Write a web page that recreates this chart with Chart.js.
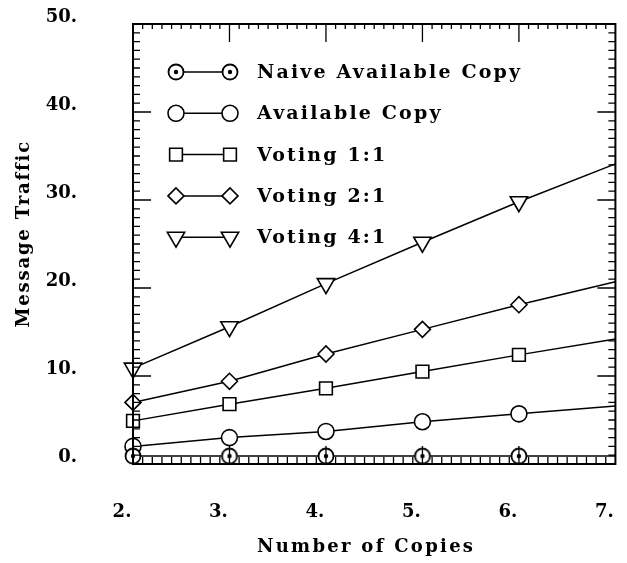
<!DOCTYPE html>
<html>
<head>
<meta charset="utf-8">
<title>Message Traffic</title>
<script src="https://cdn.jsdelivr.net/npm/chart.js@4.4.1/dist/chart.umd.min.js"></script>
<style>
  html, body { margin: 0; padding: 0; background: #fff; }
  canvas { display: block; }
</style>
</head>
<body>
<canvas id="trafficChart" width="627" height="563"></canvas>
<script>
// ===== Data =====
const copies = [2, 3, 4, 5, 6, 7];
const naiveAvailable = [0.9, 0.9, 0.9, 0.9, 0.9, 0.9];
const availableCopy = [2.0, 3.0, 3.7, 4.8, 5.7, 6.6];
const voting11 = [4.9, 6.8, 8.6, 10.5, 12.4, 14.2];
const voting21 = [7.0, 9.4, 12.5, 15.3, 18.1, 20.7];
const voting41 = [10.9, 15.6, 20.5, 25.2, 29.8, 34.1];
const seriesNames = ["Naive Available Copy", "Available Copy", "Voting 1:1", "Voting 2:1", "Voting 4:1"];
const xTickValues = [2, 3, 4, 5, 6, 7];
const yTickValues = [0, 10, 20, 30, 40, 50];

const FONT = "'DejaVu Serif', 'Liberation Serif', serif";

// ===== Marker: circle with a dot =====
function makeDotCircle(r) {
  const c = document.createElement("canvas");
  const s = 20;
  c.width = s; c.height = s;
  const g = c.getContext("2d");
  g.lineWidth = 1.8;
  g.strokeStyle = "#000";
  g.fillStyle = "#fff";
  g.beginPath(); g.arc(s / 2, s / 2, r, 0, Math.PI * 2); g.fill(); g.stroke();
  g.fillStyle = "#000";
  g.beginPath(); g.arc(s / 2, s / 2, 2.2, 0, Math.PI * 2); g.fill();
  return c;
}
const dotCircle = makeDotCircle(7.5);

// markers shown on 2..6, the line runs on to 7
function radii(r) { return copies.map(c => (c < 7 ? r : 0)); }
function points(values) { return copies.map((c, i) => ({ x: c, y: values[i] })); }

const markerStyles = [
  { pointStyle: dotCircle, pointRadius: radii(7.5), rotation: 0 },
  { pointStyle: "circle", pointRadius: radii(8), rotation: 0 },
  { pointStyle: "rect", pointRadius: radii(9), rotation: 0 },
  { pointStyle: "rectRot", pointRadius: radii(8), rotation: 0 },
  { pointStyle: "triangle", pointRadius: radii(10), rotation: 180 }
];
const seriesValues = [naiveAvailable, availableCopy, voting11, voting21, voting41];

const datasets = seriesValues.map((vals, i) => ({
  label: seriesNames[i],
  data: points(vals),
  borderColor: "#000",
  borderWidth: 1.5,
  pointBorderColor: "#000",
  pointBackgroundColor: "#fff",
  pointBorderWidth: 1.6,
  pointStyle: markerStyles[i].pointStyle,
  pointRadius: markerStyles[i].pointRadius,
  pointRotation: markerStyles[i].rotation,
  tension: 0,
  clip: false
}));

// ===== Spaced text helper =====
function spacingFor(ctx, text, target) {
  ctx.letterSpacing = "0px";
  const w0 = ctx.measureText(text).width;
  return (target - w0) / (text.length - 1);
}
function spacedText(ctx, text, x, y, target, align) {
  const sp = spacingFor(ctx, text, target);
  const w0 = ctx.measureText(text).width;
  if ("letterSpacing" in ctx) ctx.letterSpacing = sp + "px";
  const w = w0 + sp * (text.length - 1);
  ctx.textAlign = "left";
  ctx.fillText(text, align === "center" ? x - w / 2 : x, y);
  ctx.letterSpacing = "0px";
}

// ===== Frame, inner ticks, titles, legend =====
const framePlugin = {
  id: "frame",
  afterDatasetsDraw(chart) {
    const ctx = chart.ctx;
    const a = chart.chartArea;
    const xs = chart.scales.x, ys = chart.scales.y;
    ctx.save();
    ctx.strokeStyle = "#000";
    ctx.lineWidth = 2;
    ctx.strokeRect(a.left, a.top, a.right - a.left, a.bottom - a.top);

    ctx.lineWidth = 1.3;
    ctx.beginPath();
    // top & bottom: minor every 0.1, major every 1
    for (let i = 21; i < 70; i++) {
      const px = xs.getPixelForValue(i / 10);
      const major = i % 10 === 0;
      ctx.moveTo(px, a.bottom); ctx.lineTo(px, a.bottom - (major ? 18 : 7));
      ctx.moveTo(px, a.top); ctx.lineTo(px, a.top + (major ? 18 : 5));
    }
    // left & right: minor every 1, major every 10
    for (let v = 1; v < 50; v++) {
      const py = ys.getPixelForValue(v);
      const len = v % 10 === 0 ? 18 : 7;
      ctx.moveTo(a.left, py); ctx.lineTo(a.left + len, py);
      ctx.moveTo(a.right, py); ctx.lineTo(a.right - len, py);
    }
    ctx.stroke();

    // axis titles
    ctx.fillStyle = "#000";
    ctx.font = "bold 18px " + FONT;
    ctx.textBaseline = "middle";
    spacedText(ctx, "Number of Copies", 365, 547, 216, "center");
    ctx.save();
    ctx.translate(24, 235);
    ctx.rotate(-Math.PI / 2);
    spacedText(ctx, "Message Traffic", 0, 0, 185, "center");
    ctx.restore();

    // legend
    ctx.font = "bold 19px " + FONT;
    const sp = spacingFor(ctx, seriesNames[0], 263);
    seriesNames.forEach((name, i) => {
      const y = 72 + i * 41.3;
      ctx.strokeStyle = "#000";
      ctx.lineWidth = 1.5;
      ctx.beginPath(); ctx.moveTo(176, y); ctx.lineTo(230, y); ctx.stroke();
      const ds = chart.data.datasets[i];
      const opts = {
        pointStyle: ds.pointStyle, rotation: ds.pointRotation,
        radius: ds.pointRadius[0], borderWidth: ds.pointBorderWidth
      };
      [176, 230].forEach(mx => {
        ctx.fillStyle = "#fff";
        ctx.lineWidth = 1.6;
        Chart.helpers.drawPoint(ctx, opts, mx, y);
      });
      ctx.fillStyle = "#000";
      if ("letterSpacing" in ctx) ctx.letterSpacing = sp + "px";
      ctx.textAlign = "left";
      ctx.fillText(name, 257, y + 1);
      ctx.letterSpacing = "0px";
    });
    ctx.restore();
  }
};

function noPadding(s) {
  s.paddingLeft = 0; s.paddingRight = 0; s.paddingTop = 0; s.paddingBottom = 0;
}

new Chart(document.getElementById("trafficChart").getContext("2d"), {
  type: "line",
  data: { datasets },
  options: {
    responsive: false,
    animation: false,
    devicePixelRatio: 1,
    layout: { padding: { top: 24, right: 9, left: 0, bottom: 0 } },
    plugins: { legend: { display: false }, tooltip: { enabled: false } },
    scales: {
      x: {
        type: "linear",
        min: 2, max: 7,
        afterFit: s => { s.height = 99; noPadding(s); },
        afterBuildTicks: s => { s.ticks = xTickValues.map(v => ({ value: v })); },
        grid: { display: false, drawTicks: false },
        border: { display: false },
        ticks: {
          padding: 38,
          labelOffset: -11,
          maxRotation: 0,
          color: "#000",
          font: { family: FONT, size: 18, weight: "bold" },
          callback: v => v + "."
        }
      },
      y: {
        type: "linear",
        min: 0, max: 50,
        afterFit: s => { s.width = 133; noPadding(s); },
        afterBuildTicks: s => { s.ticks = yTickValues.map(v => ({ value: v })); },
        grid: { display: false, drawTicks: false },
        border: { display: false },
        ticks: {
          padding: 56,
          labelOffset: -7,
          color: "#000",
          font: { family: FONT, size: 18, weight: "bold" },
          callback: v => v + "."
        }
      }
    }
  },
  plugins: [framePlugin]
});
</script>
</body>
</html>
